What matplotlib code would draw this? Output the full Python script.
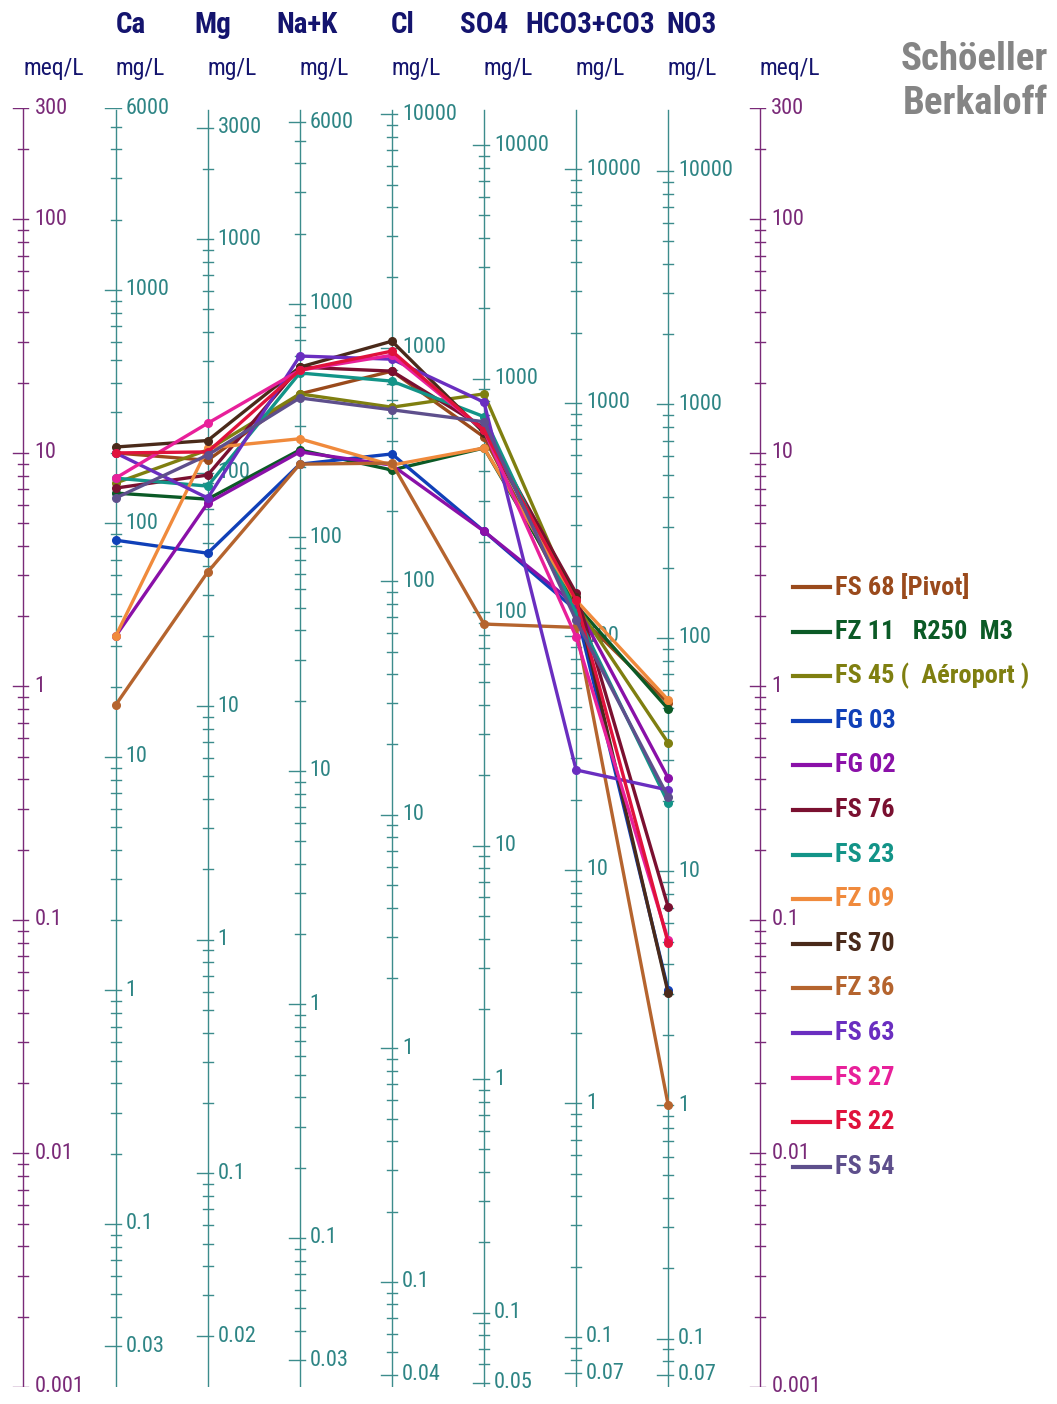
import numpy as np
import matplotlib
matplotlib.use("Agg")
import matplotlib.pyplot as plt
from matplotlib import font_manager
from matplotlib.lines import Line2D

# ---------------- data (meq/L) ----------------
samples = ["FS 68 [Pivot]", "FZ 11   R250  M3", "FS 45 (  Aéroport )", "FG 03", "FG 02",
           "FS 76", "FS 23", "FZ 09", "FS 70", "FZ 36", "FS 63", "FS 27", "FS 22", "FS 54"]
ions = ["Ca", "Mg", "Na+K", "Cl", "SO4", "HCO3+CO3", "NO3"]
eq_weight = [20.04, 12.15, 23.0, 35.45, 48.03, 61.02, 62.0]

ca   = [10.0, 6.73, 7.43, 4.23, 1.64, 7.07, 7.80, 1.64, 10.6, 0.832, 10.0, 7.80, 10.0, 6.41]
mg   = [9.3, 6.34, 10.3, 3.72, 6.10, 8.04, 7.21, 10.5, 11.3, 3.09, 6.41, 13.4, 10.1, 9.8]
nak  = [17.9, 10.3, 17.9, 8.95, 10.1, 23.3, 22.0, 11.5, 23.3, 8.95, 26.0, 22.6, 22.6, 17.2]
cl   = [22.4, 8.45, 15.7, 9.9, 8.87, 22.4, 20.3, 8.87, 30.1, 9.05, 25.2, 26.2, 27.3, 15.3]
so4  = [11.7, 10.5, 17.9, 4.62, 4.62, 12.8, 14.3, 10.5, 12.2, 1.85, 16.5, 12.5, 12.5, 13.6]
hco3 = [2.06, 2.23, 2.23, 2.12, 2.23, 2.51, 2.06, 2.34, 2.41, 1.79, 0.439, 1.63, 2.34, 1.92]
no3  = [0.849, 0.80, 0.573, 0.0501, 0.405, 0.1135, 0.317, 0.875, 0.0486, 0.0161, 0.360, 0.082, 0.0796, 0.336]

meq_labels = [300, 100, 10, 1, 0.1, 0.01, 0.001]
mg_labels = [
    [6000, 1000, 100, 10, 1, 0.1, 0.03],
    [3000, 1000, 100, 10, 1, 0.1, 0.02],
    [6000, 1000, 100, 10, 1, 0.1, 0.03],
    [10000, 1000, 100, 10, 1, 0.1, 0.04],
    [10000, 1000, 100, 10, 1, 0.1, 0.05],
    [10000, 1000, 100, 10, 1, 0.1, 0.07],
    [10000, 1000, 100, 10, 1, 0.1, 0.07],
]

# ---------------- style ----------------
colors = ["#9a4a1c", "#0b5a26", "#7f7f10", "#1040b8", "#8a10a8", "#7a1030", "#139488",
          "#f08a3c", "#4a2a1a", "#b5642e", "#6a2ec0", "#e8209a", "#e0123c", "#5e4f8c"]
TEAL = "#3c8c8c"
TEAL_TXT = "#2e8585"
PURP = "#7a2a78"
NAVY = "#14146e"

names = {f.name for f in font_manager.fontManager.ttflist}
FONT = "Liberation Sans"
for cand in ["Liberation Sans Narrow", "Roboto Condensed", "Fira Sans Condensed",
             "Asap Condensed", "Encode Sans Condensed"]:
    if cand in names:
        FONT = cand
        break
plt.rcParams['font.family'] = [FONT, 'DejaVu Sans']

W, H = 1057, 1404
fig = plt.figure(figsize=(W / 100, H / 100), dpi=100)
TOP_PX, BOT_PX = 108, 1387
ax = fig.add_axes([0, 1 - BOT_PX / H, 1, (BOT_PX - TOP_PX) / H])
PXU = 92.1
X0 = 23.5
ax.set_xlim(-X0 / PXU, (W - X0) / PXU)
ax.set_yscale('log')
ax.set_ylim(0.001, 300)
ax.axis('off')

def px(d):
    return d / PXU

def fx(xpx):
    return xpx / W

def fy(ypx):
    return 1 - ypx / H

def fmt(v):
    if v >= 1:
        return "%d" % v
    return ("%g" % v)

def log_ticks(lo, hi):
    out = []
    for d in range(-4, 6):
        for k in range(1, 10):
            v = k * 10.0 ** d
            if lo * 0.999 <= v <= hi * 1.001:
                out.append(v)
    return out

TICK_FS = 16

# meq/L axes (left index 0, right index 8)
for xi in (0, 8):
    ax.plot([xi, xi], [0.001, 300], color=PURP, lw=1.0, zorder=1)
    for v in log_ticks(0.001, 300):
        major = any(abs(v - m) < 1e-9 * max(1, m) for m in meq_labels)
        ax.plot([xi - px(10 if major else 5), xi + px(5)], [v, v], color=PURP, lw=1.0, zorder=1)
    for m in meq_labels:
        ax.text(xi + px(11), m, fmt(m), color=PURP, fontsize=TICK_FS, va='center', ha='left', zorder=1)

# mg/L axes
for i, w in enumerate(eq_weight):
    xi = i + 1
    labs = mg_labels[i]
    lo, hi = min(labs), max(labs)
    ax.plot([xi, xi], [0.001, 295], color=TEAL, lw=1.0, zorder=1)
    for v in log_ticks(lo, hi):
        major = any(abs(v - m) < 1e-9 * max(1, m) for m in labs)
        ax.plot([xi - px(11 if major else 5), xi + px(5)], [v / w, v / w], color=TEAL, lw=1.0, zorder=1)
    for m in labs:
        ax.text(xi + px(10), m / w, fmt(m), color=TEAL_TXT, fontsize=TICK_FS, va='center', ha='left', zorder=1)

# data
series = np.array([ca, mg, nak, cl, so4, hco3, no3]).T
xs = np.arange(1, 8)
for k, name in enumerate(samples):
    ax.plot(xs, series[k], '-o', color=colors[k], lw=2.4, ms=5.5, zorder=3 + k * 0.01)

# header labels
head_x = [131, 213, 307, 403, 484, 590, 691]
for name, hx in zip(ions, head_x):
    fig.text(fx(hx), fy(25), name, color=NAVY, fontsize=21, fontweight='bold', ha='center', va='center')
unit_x = [54, 140, 232, 324, 416, 508, 600, 692, 790]
for j, ux in enumerate(unit_x):
    u = "meq/L" if j in (0, 8) else "mg/L"
    fig.text(fx(ux), fy(69), u, color=NAVY, fontsize=17, ha='center', va='center')

fig.text(fx(1048), fy(60), "Schöeller", color="#858585", fontsize=28, fontweight='bold', ha='right', va='center')
fig.text(fx(1048), fy(104), "Berkaloff", color="#858585", fontsize=28, fontweight='bold', ha='right', va='center')

# legend
for k, name in enumerate(samples):
    ly = 587 + k * 44.6
    fig.add_artist(Line2D([fx(793), fx(830)], [fy(ly), fy(ly)], color=colors[k], lw=3.0,
                          transform=fig.transFigure))
    fig.text(fx(835), fy(ly), name, color=colors[k], fontsize=19, fontweight='bold',
             ha='left', va='center')

fig.savefig("out.png", dpi=100, facecolor='white')
